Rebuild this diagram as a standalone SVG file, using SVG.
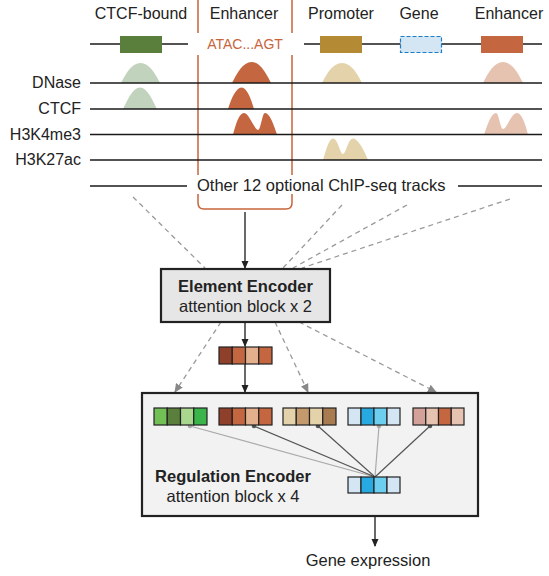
<svg xmlns="http://www.w3.org/2000/svg" width="549" height="576" viewBox="0 0 549 576">
<defs>
<style>
text{font-family:"Liberation Sans",Arial,sans-serif;fill:#222}
.lbl{font-size:16.5px}
.trk{font-size:16px;text-anchor:end}
.ttl{font-size:16.5px;text-anchor:middle}
.top{font-size:16px;text-anchor:middle}
.b{font-weight:bold}
.ln{stroke:#1a1a1a;stroke-width:1.3;fill:none}
.dash{stroke:#999;stroke-width:1.3;stroke-dasharray:5 4;fill:none}
.cell{stroke:#222;stroke-width:1.2}
.box{stroke:#222;stroke-width:2.2}
.att-d{stroke:#555;stroke-width:1.2}
.att-l{stroke:#aaa;stroke-width:1.2}
</style>
<marker id="ah" markerWidth="8" markerHeight="8" refX="7" refY="4" orient="auto" markerUnits="userSpaceOnUse">
<path d="M0,0.5 L8,4 L0,7.5 Z" fill="#222"/>
</marker>
<marker id="ahg" markerWidth="9" markerHeight="9" refX="8" refY="4.5" orient="auto" markerUnits="userSpaceOnUse">
<path d="M0,0.5 L9,4.5 L0,8.5 Z" fill="#888"/>
</marker>
</defs>
<rect width="549" height="576" fill="#fff"/>

<!-- enhancer highlight bracket -->
<path d="M198,0 V203 Q198,209 204,209 H286 Q292,209 292,203 V0" fill="none" stroke="#c8643c" stroke-width="1.5"/>

<!-- top labels -->
<g id="labels-top">
<text class="top" x="141" y="19">CTCF-bound</text>
<text class="top" x="244" y="19">Enhancer</text>
<text class="top" x="341" y="19">Promoter</text>
<text class="top" x="419" y="19">Gene</text>
<text class="top" x="509" y="19">Enhancer</text>
</g>

<!-- genome line -->
<g id="genome">
<line class="ln" x1="90" y1="44" x2="190" y2="44"/>
<line class="ln" x1="302" y1="44" x2="542" y2="44"/>
<rect x="188" y="33" width="116" height="22" fill="#fff"/>
<text x="245" y="49" font-size="14" text-anchor="middle" style="fill:#c8643c">ATAC...AGT</text>
<rect x="120" y="36" width="42" height="17" fill="#5a7f3c"/>
<rect x="320" y="36" width="42" height="17" fill="#b58a35"/>
<rect x="400.5" y="36.5" width="41" height="16" fill="#d4e5f3" stroke="#1a7cc4" stroke-width="1.2" stroke-dasharray="4 2"/>
<rect x="481" y="36" width="42" height="17" fill="#c4663f"/>
</g>

<!-- peaks -->
<g id="peaks">
<path d="M121,83 C126,73 132,63 140.5,63 C149,63 155,73 160,83 Z" fill="#c1d2bd"/>
<path d="M232,83 C237,73 243,62 251.5,62 C260,62 266,73 271,83 Z" fill="#c4663f"/>
<path d="M322,83 C327,73 333,63 342,63 C351,63 357,73 362,83 Z" fill="#e3d2aa"/>
<path d="M483,83 C488,73 494,62 503,62 C512,62 518,73 523,83 Z" fill="#e6c3b0"/>
<path d="M123,109 C128,99 133,87.5 140,87.5 C147,87.5 152,99 157,109 Z" fill="#c1d2bd"/>
<path d="M228,109 C231,99 236,87.5 241.5,87.5 C247,87.5 251,99 254,109 Z" fill="#c4663f"/>
<path d="M233,134.5 C236,124 239,113 244,113 C249,113 254,129 258,130 C261,130 262,113 265,113 C270,113 274,126 277,134.5 Z" fill="#c4663f"/>
<path d="M484,134.5 C487,126 491,113 496,113 C499,113 500,128 503,129 C507,129 511,113 517,113 C522,113 526,126 528,134.5 Z" fill="#e6c3b0"/>
<path d="M323,160 C326,150 329,138.5 333,138.5 C338,138.5 340,154 343,154 C346,154 348,138.5 353,138.5 C358,138.5 364,150 368,160 Z" fill="#e3d2aa"/>
</g>

<!-- tracks -->
<g id="tracks">
<line class="ln" x1="90" y1="83" x2="542" y2="83"/>
<line class="ln" x1="90" y1="109" x2="542" y2="109"/>
<line class="ln" x1="90" y1="134.5" x2="542" y2="134.5"/>
<line class="ln" x1="90" y1="160" x2="542" y2="160"/>
<line class="ln" x1="90" y1="186" x2="542" y2="186"/>
<rect x="187" y="175" width="271" height="19" fill="#fff"/>
<text class="lbl" x="197" y="191">Other 12 optional ChIP-seq tracks</text>
<text class="trk" x="81" y="88">DNase</text>
<text class="trk" x="81" y="114">CTCF</text>
<text class="trk" x="81" y="139.5">H3K4me3</text>
<text class="trk" x="81" y="165">H3K27ac</text>
</g>

<!-- connectors -->
<g id="connectors">
<line class="dash" x1="133" y1="197" x2="205" y2="268"/>
<line class="dash" x1="342" y1="205" x2="283" y2="268"/>
<line class="dash" x1="407" y1="205" x2="293" y2="268"/>
<line class="dash" x1="510" y1="199" x2="302" y2="268"/>
<line class="ln" x1="245" y1="212" x2="245" y2="268" marker-end="url(#ah)"/>
<line class="ln" x1="245" y1="322" x2="245" y2="346" marker-end="url(#ah)"/>
<line class="ln" x1="245" y1="364" x2="245" y2="392" marker-end="url(#ah)"/>
<line class="dash" x1="221" y1="322" x2="175" y2="392" marker-end="url(#ahg)"/>
<line class="dash" x1="275" y1="322" x2="308" y2="392" marker-end="url(#ahg)"/>
<line class="dash" x1="299" y1="322" x2="436" y2="392" marker-end="url(#ahg)"/>
<line class="ln" x1="375" y1="493" x2="375" y2="546" marker-end="url(#ah)"/>
</g>

<!-- element encoder -->
<g id="element-encoder">
<rect class="box" x="161" y="269" width="169" height="53" fill="#e6e6e6"/>
<text class="ttl b" x="245.5" y="292">Element Encoder</text>
<text class="ttl" x="245.5" y="312">attention block x 2</text>
</g>

<g id="element-vector">
<rect class="cell" x="219" y="347" width="13.25" height="17" fill="#8f402a"/>
<rect class="cell" x="232.25" y="347" width="13.25" height="17" fill="#c4663f"/>
<rect class="cell" x="245.5" y="347" width="13.25" height="17" fill="#e3b08e"/>
<rect class="cell" x="258.75" y="347" width="13.25" height="17" fill="#c4663f"/>
</g>

<!-- regulation encoder -->
<g id="regulation-encoder">
<rect class="box" x="142" y="393" width="336" height="123" fill="#f2f2f2"/>
<text class="ttl b" x="233" y="482">Regulation Encoder</text>
<text class="ttl" x="233" y="502">attention block x 4</text>
</g>

<g id="attention">
<line class="att-l" x1="190" y1="426" x2="375" y2="477"/>
<line class="att-d" x1="254" y1="426" x2="375" y2="477"/>
<line class="att-d" x1="318" y1="426" x2="375" y2="477"/>
<line class="att-l" x1="379" y1="426" x2="375" y2="477"/>
<line class="att-d" x1="430" y1="426" x2="375" y2="477"/>
<circle cx="190" cy="426" r="2.3" fill="#aaa"/>
<circle cx="254" cy="426" r="2.3" fill="#555"/>
<circle cx="318" cy="426" r="2.3" fill="#555"/>
<circle cx="379" cy="426" r="2.3" fill="#aaa"/>
<circle cx="430" cy="426" r="2.3" fill="#555"/>
</g>

<g id="vec-ctcf">
<rect class="cell" x="154" y="408" width="13.25" height="17" fill="#72bf55"/>
<rect class="cell" x="167.25" y="408" width="13.25" height="17" fill="#5a7f3c"/>
<rect class="cell" x="180.5" y="408" width="13.25" height="17" fill="#a9d78e"/>
<rect class="cell" x="193.75" y="408" width="13.25" height="17" fill="#3bb54a"/>
</g>
<g id="vec-enhancer">
<rect class="cell" x="219" y="408" width="13.25" height="17" fill="#8f402a"/>
<rect class="cell" x="232.25" y="408" width="13.25" height="17" fill="#c4663f"/>
<rect class="cell" x="245.5" y="408" width="13.25" height="17" fill="#e3b08e"/>
<rect class="cell" x="258.75" y="408" width="13.25" height="17" fill="#c4663f"/>
</g>
<g id="vec-promoter">
<rect class="cell" x="283" y="408" width="13.25" height="17" fill="#e3d2aa"/>
<rect class="cell" x="296.25" y="408" width="13.25" height="17" fill="#c49a6c"/>
<rect class="cell" x="309.5" y="408" width="13.25" height="17" fill="#e3d2aa"/>
<rect class="cell" x="322.75" y="408" width="13.25" height="17" fill="#a87c50"/>
</g>
<g id="vec-gene">
<rect class="cell" x="348" y="408" width="13" height="17" fill="#d4e5f3"/>
<rect class="cell" x="361" y="408" width="13" height="17" fill="#27aae1"/>
<rect class="cell" x="374" y="408" width="13" height="17" fill="#6dcff0"/>
<rect class="cell" x="387" y="408" width="13" height="17" fill="#d4e5f3"/>
</g>
<g id="vec-enhancer2">
<rect class="cell" x="413" y="408" width="12.75" height="17" fill="#d3a197"/>
<rect class="cell" x="425.75" y="408" width="12.75" height="17" fill="#e6c3b0"/>
<rect class="cell" x="438.5" y="408" width="12.75" height="17" fill="#c4663f"/>
<rect class="cell" x="451.25" y="408" width="12.75" height="17" fill="#e6c3b0"/>
</g>
<g id="vec-query">
<rect class="cell" x="348" y="477" width="13" height="16" fill="#d4e5f3"/>
<rect class="cell" x="361" y="477" width="13" height="16" fill="#27aae1"/>
<rect class="cell" x="374" y="477" width="13" height="16" fill="#6dcff0"/>
<rect class="cell" x="387" y="477" width="13" height="16" fill="#d4e5f3"/>
</g>

<g id="output">
<text class="ttl" x="368" y="566">Gene expression</text>
</g>
</svg>
